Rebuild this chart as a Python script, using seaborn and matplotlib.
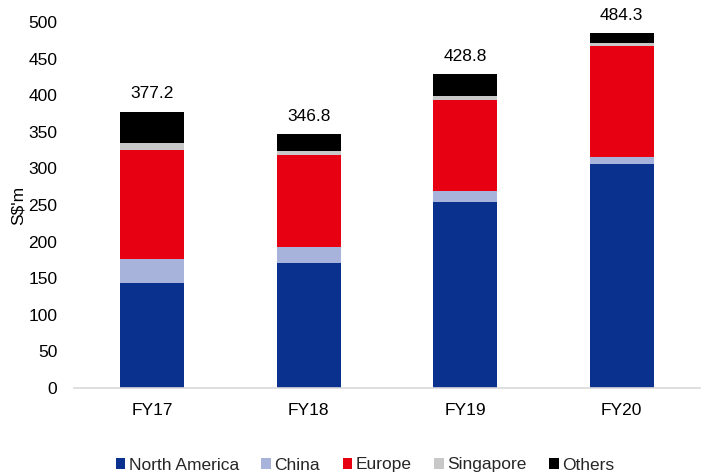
import numpy as np
import pandas as pd
import matplotlib
matplotlib.use("Agg")
import matplotlib.pyplot as plt
import seaborn as sns
from matplotlib.patches import Patch

years = ["FY17", "FY18", "FY19", "FY20"]
north_america = [143.4, 171.2, 254.5, 306.0]
china = [32.8, 21.4, 14.2, 10.0]
europe = [148.9, 125.7, 125.2, 151.2]
singapore = [9.2, 5.5, 5.4, 4.1]
others = [42.9, 23.0, 29.5, 13.0]
totals = [377.2, 346.8, 428.8, 484.3]

series_names = ["North America", "China", "Europe", "Singapore", "Others"]
series_values = [north_america, china, europe, singapore, others]
series_colors = ["#0b318f", "#a7b3da", "#e60012", "#c8c8c8", "#000000"]

sns.set_theme(style="white")
plt.rcParams["font.family"] = ["Liberation Sans", "DejaVu Sans"]
FS = 12.5

fig = plt.figure(figsize=(7.08, 4.76), dpi=100)
ax = fig.add_axes([74 / 708, 1 - 388 / 476, 626 / 708, 366 / 476])

# stacked bars: draw cumulative heights from the top segment down
cum = np.cumsum(np.array(series_values), axis=0)
for i in range(len(series_names) - 1, -1, -1):
    df = pd.DataFrame({"year": years, "value": cum[i]})
    sns.barplot(data=df, x="year", y="value", color=series_colors[i],
                width=0.41, saturation=1, ax=ax, linewidth=0)

for x, t in enumerate(totals):
    ax.annotate(f"{t:.1f}", (x, t), xytext=(0, 7.5), textcoords="offset points",
                ha="center", va="bottom", fontsize=FS, color="#000000")

ax.set_ylim(0, 500)
ax.set_xlim(-0.5, 3.5)
ax.set_yticks(range(0, 501, 50))
ax.set_xlabel("")
ax.set_ylabel("S$'m", fontsize=FS, color="#000000", labelpad=2)
ax.tick_params(axis="y", labelsize=FS, colors="#000000", length=0, pad=12)
ax.tick_params(axis="x", labelsize=FS, colors="#000000", length=0, pad=11)
for side in ["top", "right", "left"]:
    ax.spines[side].set_visible(False)
ax.spines["bottom"].set_color("#d9d9d9")
ax.spines["bottom"].set_linewidth(1.2)
ax.grid(False)

handles = [Patch(facecolor=c, edgecolor="none") for c in series_colors]
fig.legend(handles, series_names, loc="center", bbox_to_anchor=(365 / 708, 1 - 465 / 476),
           ncol=5, frameon=False, fontsize=FS, handlelength=0.55, handleheight=0.55,
           handletextpad=0.2, columnspacing=1.3)

fig.savefig("out.png", dpi=100)
